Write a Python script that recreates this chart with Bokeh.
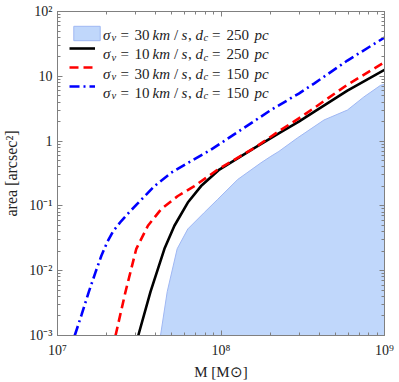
from bokeh.plotting import figure
from bokeh.models import (Range1d, FixedTicker, LogAxis, CustomJSTickFormatter,
                          Legend, LegendItem, Label)
from bokeh.core.properties import value
from bokeh.embed import file_html
from bokeh.resources import INLINE

# ---------------- data ----------------
# sigma_v = 30 km/s, d_c = 250 pc  (filled region, upper edge)
mass_s30_d250 = [4.266e7, 4.688e7, 5.395e7, 6.266e7, 7.907e7, 9.550e7, 1.265e8, 1.754e8,
                 2.018e8, 2.259e8, 2.938e8, 4.266e8, 5.929e8, 7.482e8, 9.462e8, 1.0e9]
area_s30_d250 = [1.0e-3, 4.742e-3, 2.178e-2, 4.406e-2, 7.925e-2, 0.1265, 0.2559, 0.4613,
                 0.5821, 0.6934, 1.122, 2.118, 3.013, 4.808, 7.261, 7.516]
# sigma_v = 10 km/s, d_c = 250 pc
mass_s10_d250 = [3.119e7, 3.707e7, 4.508e7, 5.188e7, 6.266e7, 7.551e7, 9.772e7, 1.596e8,
                 2.323e8, 2.992e8, 3.707e8, 5.929e8, 1.0e9]
area_s10_d250 = [1.0e-3, 4.742e-3, 2.178e-2, 4.943e-2, 0.1127, 0.2023, 0.3639, 0.7816,
                 1.380, 1.995, 2.818, 6.026, 12.59]
# sigma_v = 30 km/s, d_c = 150 pc
mass_s30_d150 = [2.265e7, 2.606e7, 3.034e7, 3.573e7, 4.305e7, 5.445e7, 6.871e7, 9.550e7,
                 1.596e8, 2.323e8, 2.992e8, 3.707e8, 5.929e8, 1.0e9]
area_s30_d150 = [1.0e-3, 4.742e-3, 2.178e-2, 4.943e-2, 0.0891, 0.1422, 0.2023, 0.3639,
                 0.7816, 1.489, 2.239, 3.236, 7.413, 16.48]
# sigma_v = 10 km/s, d_c = 150 pc
mass_s10_d150 = [1.275e7, 1.401e7, 1.556e7, 1.705e7, 1.855e7, 2.018e7, 2.195e7, 2.455e7,
                 2.748e7, 3.105e7, 3.917e7, 4.955e7, 6.266e7, 8.690e7, 1.324e8, 2.018e8,
                 2.992e8, 3.707e8, 5.929e8, 1.0e9]
area_s10_d150 = [1.0e-3, 2.058e-3, 4.742e-3, 9.352e-3, 1.701e-2, 2.786e-2, 4.103e-2, 5.837e-2,
                 8.012e-2, 0.1100, 0.2023, 0.3243, 0.4613, 0.7362, 1.489, 3.013,
                 5.420, 7.709, 17.50, 39.72]

legend_sigma_v = [30, 10, 30, 10]
legend_d_c = [250, 250, 150, 150]

x_ticks = [1e7, 1e8, 1e9]
x_tick_labels = ["10⁷", "10⁸", "10⁹"]
y_ticks = [1e-3, 1e-2, 1e-1, 1e0, 1e1, 1e2]
y_tick_labels = ["10⁻³", "10⁻²", "10⁻¹", "1", "10", "10²"]
x_label = "M [M⊙]"
y_label = "area [arcsec²]"

x_minor = [m * 10.0 ** e for e in range(7, 9) for m in range(2, 10)]
y_minor = [m * 10.0 ** e for e in range(-3, 2) for m in range(2, 10)]

# ---------------- styles ----------------
FONT = "Liberation Serif"
FRAME = "#808080"
TXT = "#222222"
FILL = "#c0d7fb"
FILL_EDGE = "#9fb7f3"

BL, BR, BT, BB = 56, 15, 11, 44
W, H = 399, 382

p = figure(width=W, height=H, x_axis_type="log", y_axis_type="log",
           x_range=Range1d(x_ticks[0], x_ticks[-1]), y_range=Range1d(y_ticks[0], y_ticks[-1]),
           output_backend="svg", toolbar_location=None,
           min_border_left=BL, min_border_right=BR, min_border_top=BT, min_border_bottom=BB)
p.xgrid.visible = False
p.ygrid.visible = False
p.outline_line_color = FRAME
p.background_fill_color = "white"
p.border_fill_color = "white"

p.add_layout(LogAxis(), "above")
p.add_layout(LogAxis(), "right")

fmt_code = """
const i = tvals.findIndex(t => Math.abs(Math.log10(t) - Math.log10(tick)) < 1e-6);
return i >= 0 ? tlabs[i] : "";
"""


def style_axis(ax, ticks, minor, labels, show):
    ax.ticker = FixedTicker(ticks=ticks, minor_ticks=minor)
    ax.axis_line_color = FRAME
    ax.major_tick_line_color = FRAME
    ax.minor_tick_line_color = FRAME
    ax.major_tick_in = 5
    ax.major_tick_out = 0
    ax.minor_tick_in = 3
    ax.minor_tick_out = 0
    if show:
        ax.formatter = CustomJSTickFormatter(args=dict(tvals=ticks, tlabs=labels), code=fmt_code)
        ax.major_label_text_font = FONT
        ax.major_label_text_font_size = "14px"
        ax.major_label_text_color = TXT
        ax.axis_label_text_font = FONT
        ax.axis_label_text_font_size = "15px"
        ax.axis_label_text_font_style = "normal"
        ax.axis_label_text_color = TXT
    else:
        ax.formatter = CustomJSTickFormatter(code="return '';")
        ax.major_label_text_font_size = "0px"
        ax.major_label_standoff = 0


style_axis(p.below[0], x_ticks, x_minor, x_tick_labels, True)
style_axis(p.above[0], x_ticks, x_minor, x_tick_labels, False)
style_axis(p.left[0], y_ticks, y_minor, y_tick_labels, True)
style_axis(p.right[0], y_ticks, y_minor, y_tick_labels, False)

p.below[0].axis_label = x_label
p.below[0].major_label_standoff = 7
p.below[0].axis_label_standoff = 3
p.left[0].axis_label = y_label
p.left[0].axis_label_text_font_size = "16px"
p.left[0].major_label_standoff = 5
p.left[0].axis_label_standoff = 6

# ---------------- marks ----------------
floor = y_ticks[0]
r_fill = p.patch(x=mass_s30_d250 + [mass_s30_d250[-1], mass_s30_d250[0]],
                 y=area_s30_d250 + [floor, floor],
                 fill_color=FILL, line_color=FILL_EDGE, line_width=1)
r_black = p.line(mass_s10_d250, area_s10_d250, line_color="black", line_width=2.6)
r_red = p.line(mass_s30_d150, area_s30_d150, line_color="#ff0000", line_width=2.6,
               line_dash="9 5")
r_blue = p.line(mass_s10_d150, area_s10_d150, line_color="#0000ff", line_width=2.6,
                line_dash="10 4 2 4")
r_dummy = p.line(x=[], y=[], line_alpha=0)

# ---------------- legend ----------------
leg_lines = Legend(items=[LegendItem(label=value(" "), renderers=[r]) for r in
                          (r_dummy, r_black, r_red, r_blue)],
                   location="top_left", margin=12, padding=4, glyph_width=26, glyph_height=12,
                   label_height=12, label_width=0, label_standoff=0, spacing=7,
                   label_text_font_size="6px", border_line_color=None,
                   background_fill_alpha=0)
leg_box = Legend(items=[LegendItem(label=value(" "), renderers=[r_fill])],
                 location="top_left", margin=13, padding=0, glyph_width=33, glyph_height=18,
                 label_height=12, label_width=0, label_standoff=0, spacing=0,
                 label_text_font_size="6px", border_line_color=None,
                 background_fill_alpha=0)
p.add_layout(leg_lines)
p.add_layout(leg_box)

# legend text, positioned in pixels of the canvas (converted to frame-relative units)
FRAME_BOTTOM = H - BB
row_baselines = [37.3, 56.7, 76.0, 95.3]
piece_x = [101.5, 110, 119, 133, 151, 172.5, 180, 186.5, 194, 202, 210.5, 225, 253]

for sv, dc, base in zip(legend_sigma_v, legend_d_c, row_baselines):
    pieces = [("σ", "italic", False), ("v", "italic", True), ("=", "normal", False),
              (str(sv), "normal", False), ("km", "italic", False), ("/", "normal", False),
              ("s", "italic", False), (",", "normal", False), ("d", "italic", False),
              ("c", "italic", True), ("=", "normal", False), (str(dc), "normal", False),
              ("pc", "italic", False)]
    for (txt, sty, sub), px in zip(pieces, piece_x):
        py = base + (3 if sub else 0)
        p.add_layout(Label(x=px - BL, y=FRAME_BOTTOM - py,
                           x_units="screen", y_units="screen", text=txt,
                           text_font=FONT, text_font_style=sty,
                           text_font_size="10.5px" if sub else "15px",
                           text_color=TXT, text_baseline="alphabetic", text_align="left"))

open("out.html", "w").write(file_html(p, INLINE))
